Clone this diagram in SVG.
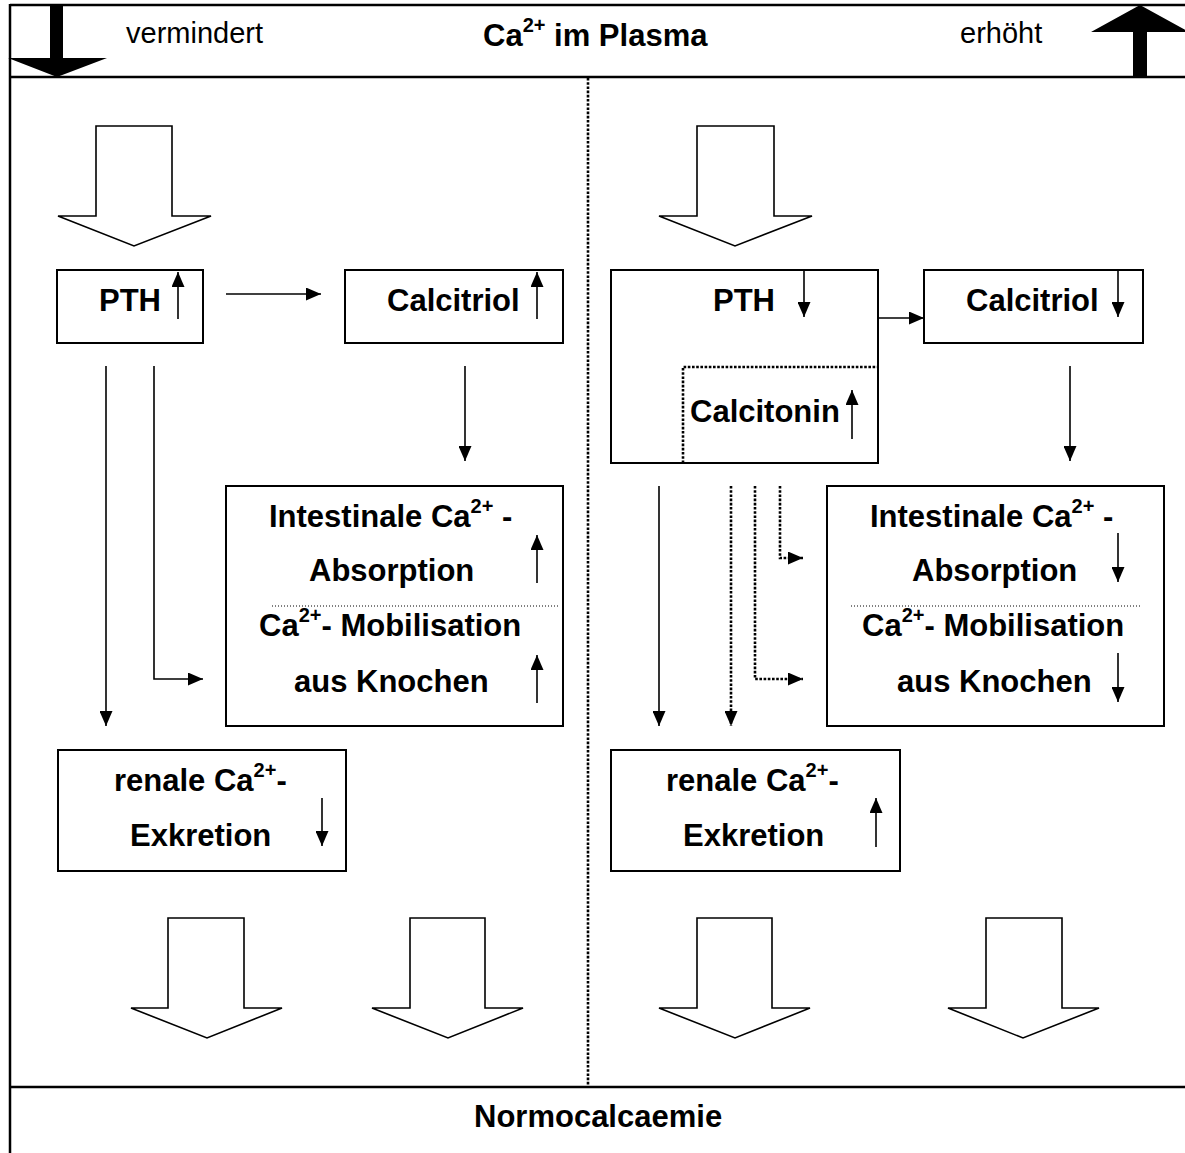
<svg xmlns="http://www.w3.org/2000/svg" width="1185" height="1153" viewBox="0 0 1185 1153">
<style>
text{font-family:"Liberation Sans",Arial,sans-serif;fill:#000}
.b{font-weight:bold;font-size:31px}
.r{font-size:29px}
.sup{font-size:20px}
.box{fill:none;stroke:#000;stroke-width:2}
.frame{fill:none;stroke:#000;stroke-width:2.5}
.ln{fill:none;stroke:#000;stroke-width:1.6}
.dot{fill:none;stroke:#000;stroke-width:2.6;stroke-dasharray:2.6 1.6}
.thin{fill:none;stroke:#000;stroke-width:1;stroke-dasharray:1 2}
.hollow{fill:#fff;stroke:#000;stroke-width:1.6;stroke-linejoin:miter}
</style>
<defs>
<marker id="ah" markerUnits="userSpaceOnUse" viewBox="0 0 15 13" refX="15" refY="6.5" markerWidth="15" markerHeight="13" orient="auto">
<path d="M0,0 L15,6.5 L0,13 z" fill="#000"/>
</marker>
</defs>
<rect width="1185" height="1153" fill="#fff"/>

<g id="frame">
<line class="frame" x1="10" y1="5" x2="1185" y2="5"/>
<line class="frame" x1="10" y1="77" x2="1185" y2="77"/>
<line class="frame" x1="10" y1="4" x2="10" y2="1153"/>
<line class="frame" x1="10" y1="1087" x2="1185" y2="1087"/>
<line class="dot" x1="588" y1="78" x2="588" y2="1086"/>
</g>

<g id="header">
<polygon points="50,5 63,5 63,58 107,58 57,77 8,58 50,58" fill="#000"/>
<polygon points="1140,5 1189,32 1147,32 1147,77 1133,77 1133,32 1091,32" fill="#000"/>
<text class="r" x="126" y="43">vermindert</text>
<text class="b" x="483" y="46">Ca<tspan class="sup" dy="-14">2+</tspan><tspan dy="14"> im Plasma</tspan></text>
<text class="r" x="960" y="43">erhöht</text>
</g>

<g id="big-arrows">
<polygon class="hollow" points="96,126 172,126 172,216 211,216 134,246 58,216 96,216"/>
<polygon class="hollow" points="697,126 774,126 774,216 812,216 735,246 659,216 697,216"/>
<polygon class="hollow" points="168,918 244,918 244,1008 282,1008 207,1038 131,1008 168,1008"/>
<polygon class="hollow" points="410,918 485,918 485,1008 523,1008 448,1038 372,1008 410,1008"/>
<polygon class="hollow" points="697,918 772,918 772,1008 810,1008 735,1038 659,1008 697,1008"/>
<polygon class="hollow" points="986,918 1062,918 1062,1008 1099,1008 1023,1038 948,1008 986,1008"/>
</g>

<g id="pth-left">
<rect class="box" x="57" y="270" width="146" height="73"/>
<text class="b" x="99" y="311">PTH</text>
<line class="ln" x1="178" y1="319" x2="178" y2="272" marker-end="url(#ah)"/>
</g>

<g id="calcitriol-left">
<rect class="box" x="345" y="270" width="218" height="73"/>
<text class="b" x="387" y="311">Calcitriol</text>
<line class="ln" x1="537" y1="319" x2="537" y2="272" marker-end="url(#ah)"/>
</g>

<g id="intestinal-left">
<rect class="box" x="226" y="486" width="337" height="240"/>
<text class="b" x="269" y="527">Intestinale Ca<tspan class="sup" dy="-14">2+</tspan><tspan dy="14"> -</tspan></text>
<text class="b" x="309" y="581">Absorption</text>
<line class="ln" x1="537" y1="583" x2="537" y2="535" marker-end="url(#ah)"/>
<line class="thin" x1="272" y1="606" x2="558" y2="606"/>
<text class="b" x="259" y="636">Ca<tspan class="sup" dy="-14">2+</tspan><tspan dy="14">- Mobilisation</tspan></text>
<text class="b" x="294" y="692">aus Knochen</text>
<line class="ln" x1="537" y1="703" x2="537" y2="655" marker-end="url(#ah)"/>
</g>

<g id="renal-left">
<rect class="box" x="58" y="750" width="288" height="121"/>
<text class="b" x="114" y="791">renale Ca<tspan class="sup" dy="-14">2+</tspan><tspan dy="14">-</tspan></text>
<text class="b" x="130" y="846">Exkretion</text>
<line class="ln" x1="322" y1="798" x2="322" y2="846" marker-end="url(#ah)"/>
</g>

<g id="pth-calcitonin-right">
<rect class="box" x="611" y="270" width="267" height="193"/>
<text class="b" x="713" y="311">PTH</text>
<line class="ln" x1="804" y1="270" x2="804" y2="317" marker-end="url(#ah)"/>
<polyline class="dot" points="683,463 683,367 877,367"/>
<text class="b" x="690" y="422">Calcitonin</text>
<line class="ln" x1="852" y1="439" x2="852" y2="390" marker-end="url(#ah)"/>
</g>

<g id="calcitriol-right">
<rect class="box" x="924" y="270" width="219" height="73"/>
<text class="b" x="966" y="311">Calcitriol</text>
<line class="ln" x1="1118" y1="270" x2="1118" y2="317" marker-end="url(#ah)"/>
</g>

<g id="intestinal-right">
<rect class="box" x="827" y="486" width="337" height="240"/>
<text class="b" x="870" y="527">Intestinale Ca<tspan class="sup" dy="-14">2+</tspan><tspan dy="14"> -</tspan></text>
<text class="b" x="912" y="581">Absorption</text>
<line class="ln" x1="1118" y1="533" x2="1118" y2="582" marker-end="url(#ah)"/>
<line class="thin" x1="851" y1="606" x2="1140" y2="606"/>
<text class="b" x="862" y="636">Ca<tspan class="sup" dy="-14">2+</tspan><tspan dy="14">- Mobilisation</tspan></text>
<text class="b" x="897" y="692">aus Knochen</text>
<line class="ln" x1="1118" y1="653" x2="1118" y2="702" marker-end="url(#ah)"/>
</g>

<g id="renal-right">
<rect class="box" x="611" y="750" width="289" height="121"/>
<text class="b" x="666" y="791">renale Ca<tspan class="sup" dy="-14">2+</tspan><tspan dy="14">-</tspan></text>
<text class="b" x="683" y="846">Exkretion</text>
<line class="ln" x1="876" y1="847" x2="876" y2="798" marker-end="url(#ah)"/>
</g>

<g id="normocalcaemie">
<text class="b" x="474" y="1127">Normocalcaemie</text>
</g>

<g id="connectors">
<line class="ln" x1="226" y1="294" x2="321" y2="294" marker-end="url(#ah)"/>
<line class="ln" x1="106" y1="366" x2="106" y2="726" marker-end="url(#ah)"/>
<polyline class="ln" points="154,366 154,679 203,679" marker-end="url(#ah)"/>
<line class="ln" x1="465" y1="366" x2="465" y2="461" marker-end="url(#ah)"/>
<line class="ln" x1="878" y1="318" x2="924" y2="318" marker-end="url(#ah)"/>
<line class="ln" x1="659" y1="486" x2="659" y2="726" marker-end="url(#ah)"/>
<line class="dot" x1="731" y1="486" x2="731" y2="726" marker-end="url(#ah)"/>
<polyline class="dot" points="755,486 755,679 803,679" marker-end="url(#ah)"/>
<polyline class="dot" points="780,486 780,558 803,558" marker-end="url(#ah)"/>
<line class="ln" x1="1070" y1="366" x2="1070" y2="461" marker-end="url(#ah)"/>
</g>
</svg>
